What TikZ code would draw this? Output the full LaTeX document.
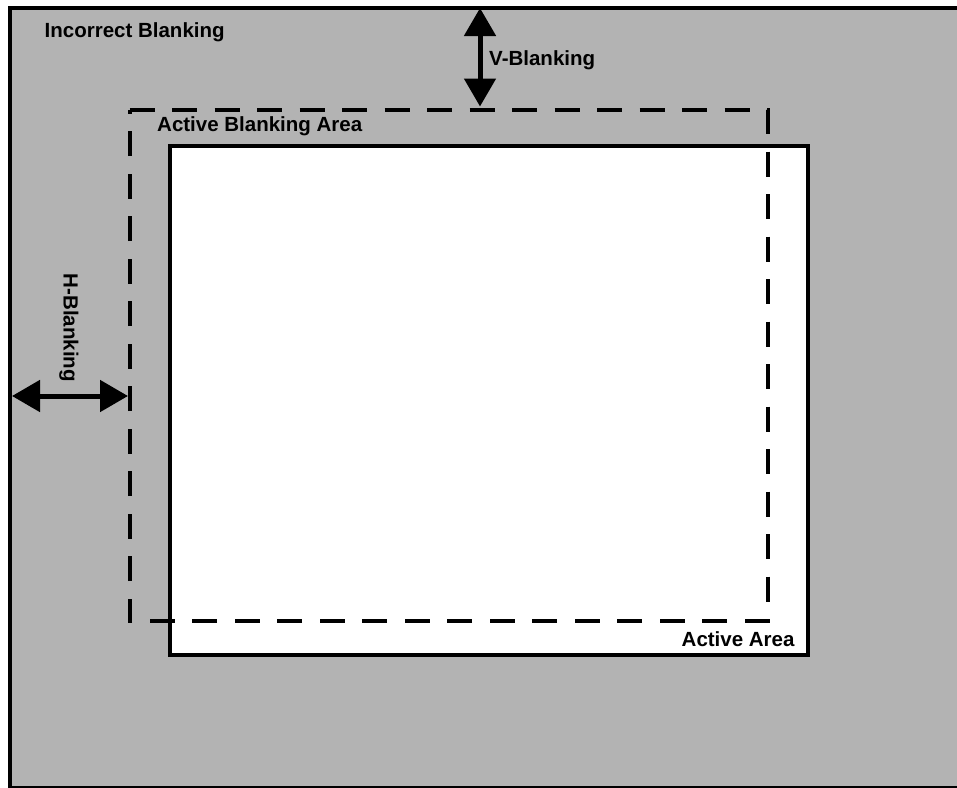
\documentclass[tikz,border=0pt]{standalone}
\usepackage{fontspec}
\setmainfont{Liberation Sans}
\usetikzlibrary{arrows.meta}
\definecolor{bggray}{RGB}{179,179,179}
\tikzset{
  lbl/.style={inner sep=0pt, anchor=base west, font=\fontsize{20.5}{24}\selectfont\bfseries},
  dimarrow/.style={line width=5pt, {Triangle[length=28pt,width=31pt]}-{Triangle[length=28pt,width=31pt]}},
  frame/.style={line width=4pt, draw=black},
  blankbox/.style={line width=4pt, draw=black, dash pattern=on 25pt off 17.5pt},
}
\begin{document}
\begin{tikzpicture}[x=1pt,y=-1pt]
\useasboundingbox (0,0) rectangle (957,787);
\fill[white] (0,0) rectangle (957,787);
\begin{scope}
\clip (0,0) rectangle (957,787);
\draw[frame, fill=bggray] (9.5,8) rectangle (980,787.5);
\end{scope}
% active area
\draw[frame, fill=white] (169.7,145.7) rectangle (808,655);
% active blanking area (dashed)
\coordinate (tl) at (129.5,109.5);
\coordinate (tr) at (767.5,109.5);
\coordinate (br) at (767.5,621);
\coordinate (bl) at (129.5,621);
\draw[blankbox] (tl) -- (tr) -- (br) -- (bl) -- cycle;
% arrows
\coordinate (vtop) at (480,8);
\coordinate (vbot) at (480,106.5);
\draw[dimarrow] (vtop) -- (vbot);
\coordinate (hleft) at (12,396);
\coordinate (hright) at (128,396);
\draw[dimarrow] (hleft) -- (hright);
% labels
\node[lbl] (incorrect) at (44.5,37.7) {Incorrect Blanking};
\node[lbl] (vblank) at (489,65) {V-Blanking};
\node[lbl] (abarea) at (157,131.7) {Active Blanking Area};
\node[lbl] (aarea) at (681.5,646) {Active Area};
\node[lbl, rotate=-90] (hblank) at (63.5,273.4) {H-Blanking};
\end{tikzpicture}
\end{document}
